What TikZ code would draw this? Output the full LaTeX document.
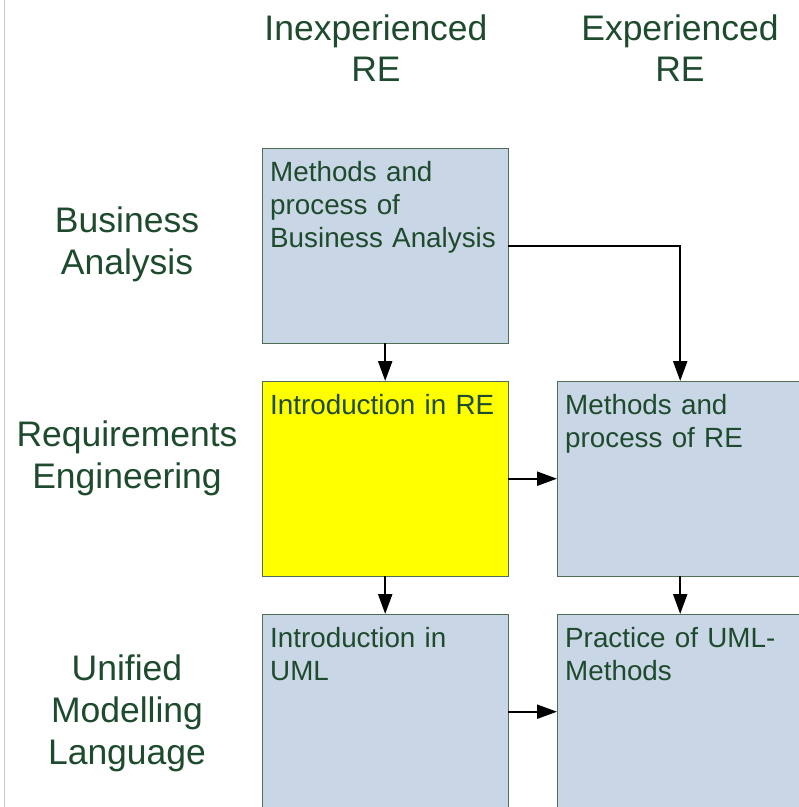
\documentclass[tikz,border=0pt]{standalone}
\usepackage{fontspec}
\setmainfont{Liberation Sans}
\usetikzlibrary{arrows.meta}
\definecolor{labelgreen}{RGB}{30,74,45}
\definecolor{boxblue}{RGB}{201,214,229}
\definecolor{boxedge}{RGB}{78,110,88}
\definecolor{introyellow}{RGB}{255,255,0}
\tikzset{
  head/.style={text=labelgreen, align=center, font=\fontsize{35.5}{42}\selectfont},
  course/.style={draw=boxedge, fill=boxblue, anchor=north west, text=labelgreen,
    align=left, text width=230pt, inner xsep=8pt, inner ysep=13pt,
    text height=20pt, text depth=149pt, font=\fontsize{27.8}{33}\selectfont},
  flow/.style={line width=2.2pt, -{Triangle[length=20pt,width=14pt]}}
}

\begin{document}
\begin{tikzpicture}[x=1pt, y=-1pt]
    \useasboundingbox (0,0) rectangle (799,807);
    \clip (0,0) rectangle (799,807);
    \draw[black!22, line width=1.6pt] (4.5,0) to (4.5,807);
    %% column and row titles
    \node[head, font=\fontsize{35.5}{41}\selectfont] (colInexp) at (376,48) {Inexperienced\\RE};
    \node[head, font=\fontsize{35.5}{41}\selectfont] (colExp) at (680,48) {Experienced\\RE};
    \node[head] (rowBA) at (127,244) {Business\\Analysis};
    \node[head] (rowRE) at (127,458) {Requirements\\Engineering};
    \node[head] (rowUML) at (127,713) {Unified\\Modelling\\Language};
    %% courses
    \node[course] (ba) at (262,148) {Methods and\\process of\\Business Analysis};
    \node[course, fill=introyellow] (introRE) at (262,381) {Introduction in RE};
    \node[course] (methRE) at (557,381) {Methods and\\process of RE};
    \node[course] (introUML) at (262,614) {Introduction in\\UML};
    \node[course] (practUML) at (557,614) {Practice of UML-\\Methods};
    %%
    \draw[flow] (ba.south) to (introRE.north);
    \draw[flow] (ba.east) -| (methRE.north);
    \draw[flow] (introRE.east) to (methRE.west);
    \draw[flow] (introRE.south) to (introUML.north);
    \draw[flow] (methRE.south) to (practUML.north);
    \draw[flow] (introUML.east) to (practUML.west);
\end{tikzpicture}
\end{document}
